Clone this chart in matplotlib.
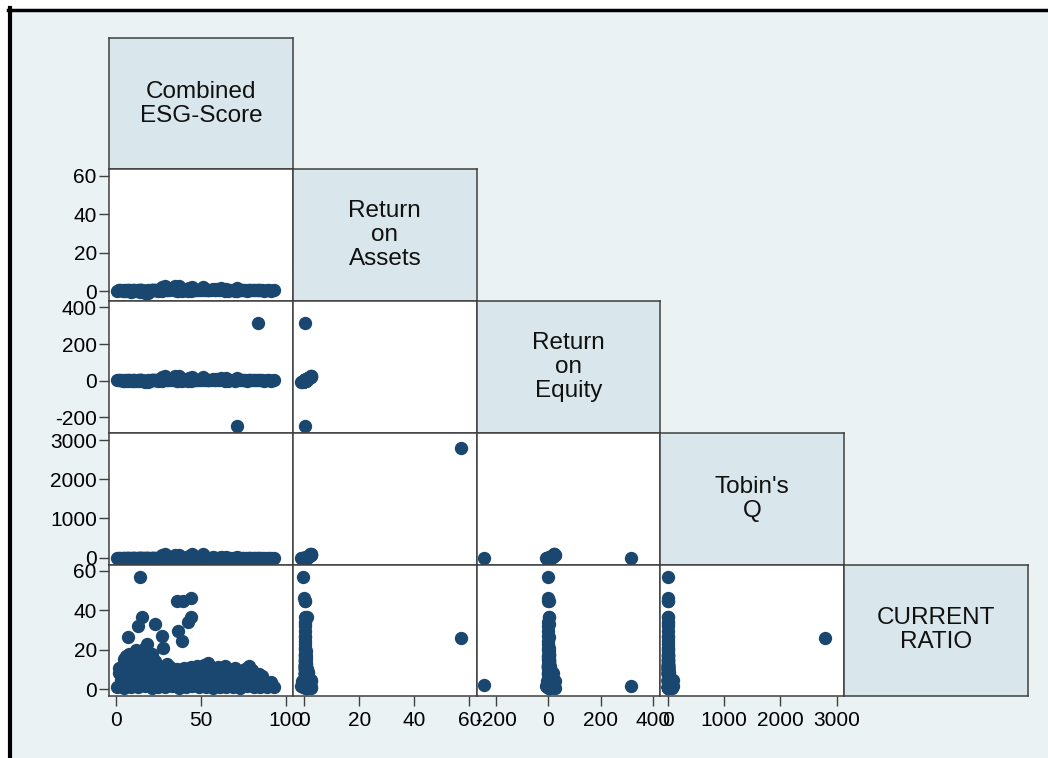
import matplotlib.pyplot as plt
from matplotlib.lines import Line2D
from matplotlib.patches import Rectangle
import numpy as np

plt.rcParams['font.family'] = ['Liberation Sans', 'DejaVu Sans']
plt.rcParams['axes.unicode_minus'] = False

nan = np.nan
names = ["Combined\nESG-Score", "Return\non\nAssets", "Return\non\nEquity", "Tobin's\nQ", "CURRENT\nRATIO"]

# one entry per firm-year; nan = missing
esg = [1, 5, 9, 13, 17, 21, 25, 29, 33, 37, 41, 45, 49, 53, 57, 61, 65, 69, 73, 77, 81, 85, 89, 93,
       3, 7, 11, 15, 19, 23, 27, 31, 35, 39, 43, 47, 51, 55, 59, 63, 67, 71, 75, 79, 83, 87, 90,
       2, 6, 10, 14, 18, 22, 26, 30, 34, 38, 42, 46, 50, 54, 58, 62, 66, 70, 74, 78, 82,
       4, 8, 10, 12, 15, 17, 19, 21, 23, 25, 32, 36, 44, 48, 52, 56, 60, 66, 70, 76, 80, 84, 11, 14, 18, 21, 16, 13, 7,
       2, 5, 9, 6, 11, 14, 19, 22, 24, 20, 16, 28, 40, 46, 58, 64, 72, 78, 86, 91, 30, 54, 34,
       14.5, 35.8, 39.7, 44.2, 44.2, 42.3, 15.6, 13.3, 23.1, 36.4, 39.1, 7.4, 27.4, 28.0, 18.2,
       83.5, 71.5, nan]
roa = [0.2, 0.5, -0.3, 0.4, -1.2, 0.6, 0.3, 2.4, 0.8, 2.6, 0.5, 2.2, 0.7, 0.4, 0.9, 0.3, 1.3, 0.5, 0.6, 0.2, 0.4, 0.7, 0.3, 0.5,
       0.4, 0.1, 0.6, 0.3, -0.9, 0.5, 2.1, 0.7, 2.5, 0.4, 1.8, 0.6, 2.3, 0.3, 0.8, 0.5, 0.4, 1.4, 0.6, 0.3, 0.7, 0.2, 0.4,
       0.3, 0.6, 0.2, 0.5, 0.1, 0.4, 0.7, 0.3, 1.2, 0.5, 0.9, 0.4, 0.6, 0.3, 0.5, 1.5, 0.2, 0.6, 0.4, 0.3, 0.5,
       0.2, 0.4, 0.3, 0.1, 0.5, 0.2, 0.6, 0.3, 0.4, 0.2, 0.8, 1.0, 0.7, 0.5, 0.4, 0.6, 0.3, 0.5, 0.2, 0.4, 0.3, 0.5, 0.2, 0.4, 0.1, 0.3, 0.2, 0.5, 0.3,
       0.3, 0.2, 0.4, 0.1, 0.3, 0.5, 0.2, 0.4, 0.3, 0.6, 0.2, 0.5, 0.4, 0.3, 0.6, 0.2, 0.5, 0.3, 0.4, 0.2, 0.6, 0.3, 0.4,
       -0.4, 0.1, 0.3, 0.0, 0.9, 0.2, 0.4, 0.1, 0.3, 0.2, 0.1, 0.3, 0.2, 0.4, 0.1,
       0.4, 0.1, 57]
roe = [2, 4, -3, 3, -9, 5, 2, 24, 6, 27, 4, 21, 5, 3, 7, 2, 14, 4, 5, 1, 3, 6, 2, 4,
       3, 1, 5, 2, -6, 4, 19, 6, 25, 3, 16, 5, 22, 2, 7, 4, 3, 15, 5, 2, 6, 1, 3,
       2, 5, 1, 4, 0, 3, 6, 2, 11, 4, 8, 3, 5, 2, 4, 17, 1, 5, 3, 2, 4,
       1, 3, 2, 0, 4, 1, 5, 2, 3, 1, 7, 9, 6, 4, 3, 5, 2, 4, 1, 3, 2, 4, 1, 3, 0, 2, 1, 4, 2,
       2, 1, 3, 0, 2, 4, 1, 3, 2, 5, 1, 4, 3, 2, 5, 1, 4, 2, 3, 1, 5, 2, 3,
       -2, 1, 2, 0, 5, 1, 3, 0, 2, 1, 0, 2, 1, 3, 0,
       316, -245, nan]
tobin = [2, 3, 1, 4, 1, 2, 3, 85, 5, 70, 3, 95, 2, 4, 6, 2, 12, 3, 2, 1, 3, 4, 2, 3,
         3, 2, 4, 2, 1, 3, 60, 4, 80, 3, 45, 5, 90, 2, 4, 3, 2, 14, 3, 2, 4, 1, 2,
         2, 4, 1, 3, 1, 2, 5, 3, 25, 4, 15, 3, 6, 2, 3, 18, 1, 4, 3, 2, 3,
         2, 3, 2, 1, 3, 2, 4, 2, 3, 1, 6, 8, 5, 3, 2, 4, 2, 3, 1, 2, 2, 3, 1, 2, 1, 2, 1, 3, 2,
         2, 1, 3, 1, 2, 3, 1, 2, 2, 4, 1, 3, 2, 2, 4, 1, 3, 2, 3, 1, 4, 2, 3,
         1, 2, 3, 1, 5, 2, 3, 1, 2, 2, 1, 2, 1, 3, 1,
         2, 1, 2784]
cr = [1.0, 0.6, 1.2, 0.8, 1.5, 0.7, 1.1, 0.9, 1.3, 0.6, 1.0, 1.4, 0.8, 1.1, 0.7, 1.2, 0.9, 1.0, 0.6, 1.3, 0.8, 1.1, 0.9, 1.2,
      4.5, 5.0, 4.2, 4.8, 4.0, 5.2, 4.4, 4.6, 4.1, 5.0, 4.3, 4.7, 4.5, 4.9, 4.2, 4.6, 4.4, 4.8, 4.1, 4.5, 4.3, 3.5, 2.8,
      8.0, 8.5, 7.6, 8.8, 8.2, 7.9, 8.1, 7.7, 8.4, 7.8, 8.6, 8.0, 8.3, 7.7, 8.5, 7.9, 8.2, 7.6, 8.0, 7.8, 7.0,
      12, 18, 14, 20, 17, 21, 13, 18, 14, 11, 11, 10, 11, 11.5, 12, 11, 11, 10, 10.5, 10, 9.5, 7.5, 11.5, 12.5, 12, 11.5, 14.5, 15, 14,
      10.5, 15, 10.5, 17, 17.5, 19.5, 17, 15, 12, 10, 10.5, 9.5, 10.5, 9.8, 10, 11.5, 9, 11.5, 6.5, 3.5, 12.5, 13, 9.8,
      56.8, 44.9, 44.9, 46.1, 36.8, 34.2, 36.4, 32.2, 33.1, 29.5, 24.6, 26.3, 26.9, 20.6, 23.1,
      1.5, 2.0, 25.9]

ticks = [[0, 50, 100], [0, 20, 40, 60], [-200, 0, 200, 400], [0, 1000, 2000, 3000], [0, 20, 40, 60]]
xlims = [(-3.8, 104.1), (-4.1, 62.7), (-272, 428), (-128, 3129)]
ylims = [None, (-5.25, 63.3), (-284, 434), (-173, 3184), (-3.66, 63.3)]

cols = [np.array(v, dtype=float) for v in (esg, roa, roe, tobin, cr)]
n = len(cols)

W, H = 1048, 758
fig = plt.figure(figsize=(W / 100, H / 100), dpi=100)
fig.patch.set_facecolor('#EAF2F3')

# outer frame
fig.add_artist(Rectangle((0, 0), 8 / W, 1, transform=fig.transFigure, color='white', zorder=0))
fig.add_artist(Rectangle((0, 1 - 8 / H), 1, 8 / H, transform=fig.transFigure, color='white', zorder=0))
fig.add_artist(Line2D([10 / W, 10 / W], [0, 1 - 8 / H], transform=fig.transFigure, color='black', lw=3))
fig.add_artist(Line2D([8 / W, 1], [1 - 10 / H, 1 - 10 / H], transform=fig.transFigure, color='black', lw=2.5))

x0, cw = 109.3, 183.7
y0, rh = 37.7, 131.7
navy = '#1A476F'
edge = '#404040'

for r in range(n):
    for c in range(r + 1):
        rect = [(x0 + c * cw) / W, 1 - (y0 + (r + 1) * rh) / H, cw / W, rh / H]
        ax = fig.add_axes(rect)
        for s in ax.spines.values():
            s.set_color(edge)
            s.set_linewidth(1.1)
        ax.tick_params(direction='out', length=7, width=1, color=edge,
                       labelsize=15, labelcolor='black')
        ax.tick_params(axis='x', pad=4)
        ax.tick_params(axis='y', pad=2)
        if r == c:
            ax.set_facecolor('#D9E6EB')
            ax.set_xticks([])
            ax.set_yticks([])
            ax.text(0.5, 0.5, names[r], ha='center', va='center', fontsize=17.5,
                    linespacing=1.12, transform=ax.transAxes, color='#111111')
            continue
        ax.set_facecolor('white')
        ax.plot(cols[c], cols[r], 'o', ms=9.6, color=navy, mew=0, clip_on=True)
        ax.set_xlim(*xlims[c])
        ax.set_ylim(*ylims[r])
        if r == n - 1:
            ax.set_xticks(ticks[c])
        else:
            ax.set_xticks([])
        if c == 0:
            ax.set_yticks(ticks[r])
        else:
            ax.set_yticks([])

fig.savefig('out.png', dpi=100, facecolor=fig.get_facecolor())
